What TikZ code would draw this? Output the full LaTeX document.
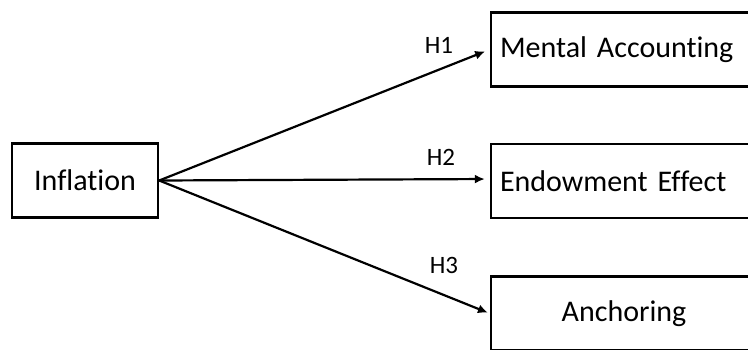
\documentclass[tikz,border=0pt]{standalone}
\usepackage{fontspec}
\setmainfont[Ligatures={NoCommon,NoRare}]{Carlito}
\usetikzlibrary{arrows.meta}
\begin{document}
\begin{tikzpicture}[x=1pt,y=-1pt,
  box/.style={draw=black,line width=2.4pt,minimum height=74pt,inner sep=0pt,font=\fontsize{30}{36}\selectfont},
  rbox/.style={box,minimum width=266pt,text width=248pt},
  link/.style={line width=2.2pt,-{Latex[length=10pt,width=9pt]},shorten >=5pt},
  hlab/.style={font=\fontsize{25}{30}\selectfont,inner sep=0pt}]
\useasboundingbox (0,0) rectangle (748,349);
\begin{scope}
\clip (0,0) rectangle (748,349);
\node[box,minimum width=146pt] (infl) at (85,180.5) {Inflation};
\node[rbox,align=left] (ment) at (624,49.5) {Mental Accounting};
\node[rbox,align=left] (endo) at (624,181) {Endowment Effect};
\node[rbox,align=center] (anch) at (624,313.5) {Anchoring};
\draw[link] (infl.east) -- (ment.west);
\draw[link] (infl.east) -- ([yshift=2pt]endo.west);
\draw[link,shorten >=2pt] (infl.east) -- (anch.west);
\end{scope}
\node[hlab] (h1) at (439,45) {H1};
\node[hlab] (h2) at (441,157) {H2};
\node[hlab] (h3) at (444,265) {H3};
\end{tikzpicture}
\end{document}
